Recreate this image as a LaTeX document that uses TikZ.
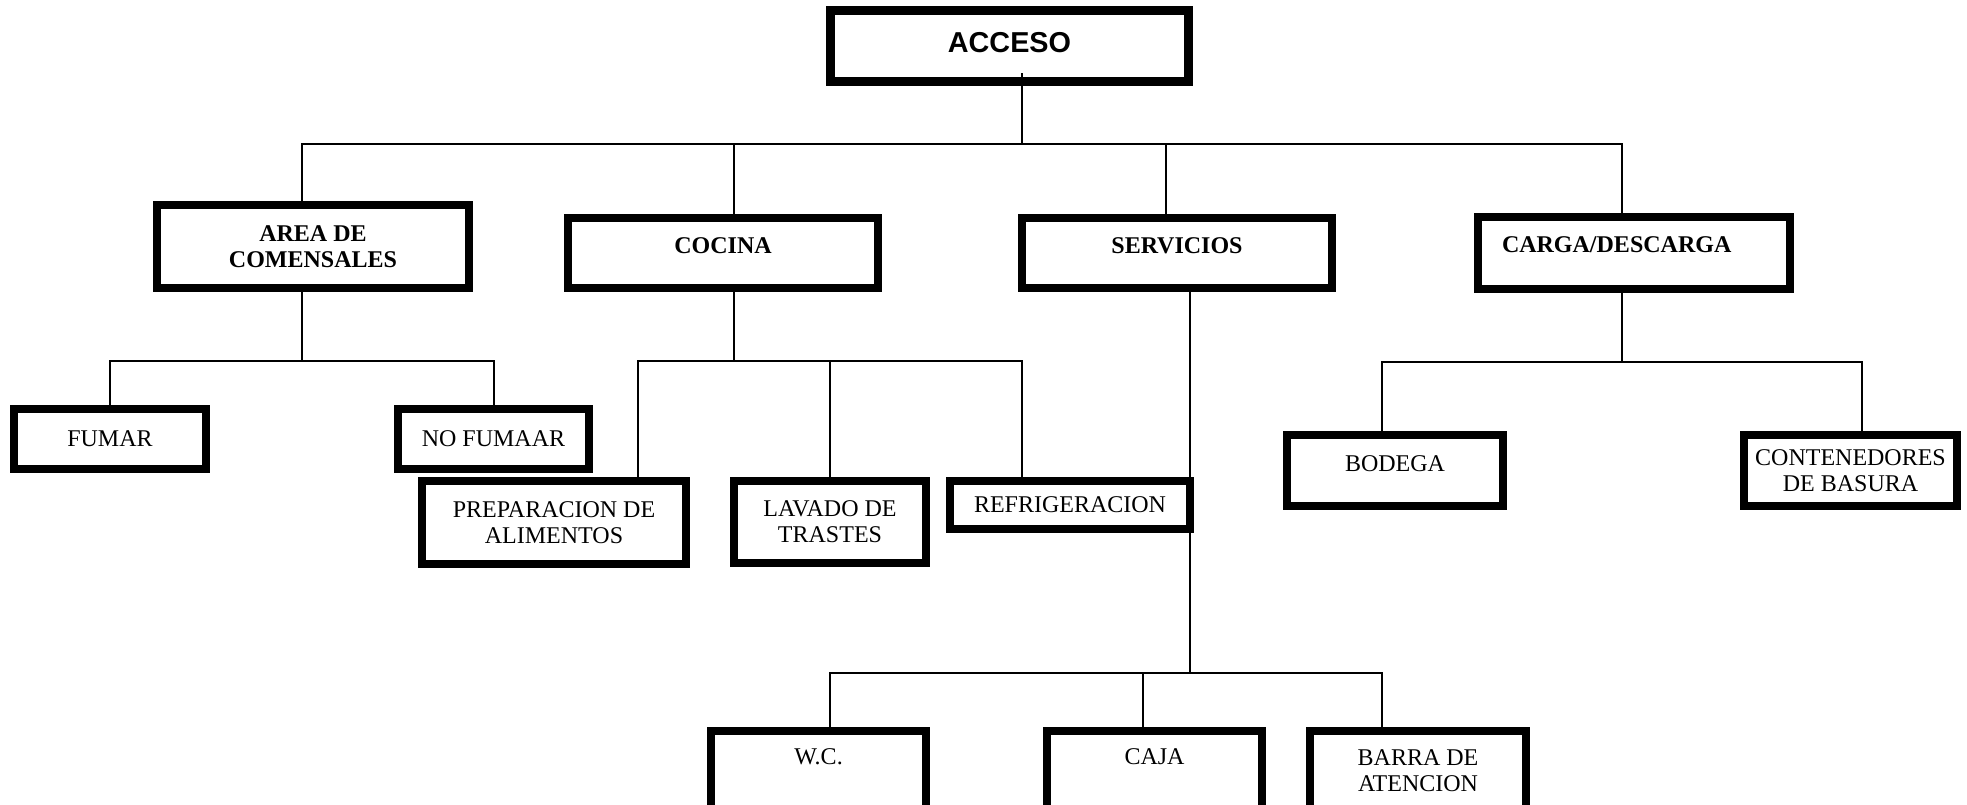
\documentclass[tikz,border=0pt]{standalone}
\usepackage{fontspec}
\setmainfont{Liberation Serif}
\newfontfamily\headfont{Liberation Sans}
\usepackage{tikz}
\usetikzlibrary{positioning,calc}
\newcommand*{\txt}{\fontsize{12}{13}\selectfont}

\begin{document}
\begin{tikzpicture}[x=0.5pt,y=-0.5pt,
  box/.style={draw,rectangle,line width=4pt,inner sep=0pt,align=center,font=\txt},
  head/.style={box,font=\txt\bfseries},
  link/.style={line width=1pt}]
\useasboundingbox (0,0) rectangle (1967,804);
\clip (0,0) rectangle (1967,804);
% Top box
\node [box,line width=4.5pt,minimum width=179pt,minimum height=35.5pt,text depth=4pt,
  font=\headfont\fontsize{14.4}{16}\selectfont\bfseries] (acceso) at (1009.5,46) {ACCESO};
% The four main areas
\node [head,minimum width=156pt,minimum height=41.5pt] (comensales) at (313,246.5)
  {AREA DE\\COMENSALES};
\node [head,minimum width=155pt,minimum height=35pt,text depth=7pt] (cocina) at (723,253)
  {COCINA};
\node [head,minimum width=155pt,minimum height=35pt,text depth=7pt] (servicios) at (1177,253)
  {SERVICIOS};
\node [head,minimum width=156pt,minimum height=36pt,text depth=8pt,text width=132pt,
  align=left] (carga) at (1634,253) {CARGA/DESCARGA};
% Dining room
\node [box,minimum width=96pt,minimum height=30pt] (fumar) at (110,439) {FUMAR};
\node [box,minimum width=95.5pt,minimum height=30pt] (nofumar) at (493.5,439) {NO FUMAAR};
% Kitchen
\node [box,minimum width=132pt,minimum height=41.5pt] (prep) at (554,522.5)
  {PREPARACION DE\\ALIMENTOS};
\node [box,minimum width=96pt,minimum height=41pt] (lavado) at (830,522)
  {LAVADO DE\\TRASTES};
\node [box,minimum width=120pt,minimum height=24pt] (refri) at (1070,505) {REFRIGERACION};
% Loading area
\node [box,minimum width=108pt,minimum height=35.5pt,text depth=7pt] (bodega) at (1395,470.5)
  {BODEGA};
\node [box,minimum width=106.5pt,minimum height=35.5pt] (conten) at (1850.5,470.5)
  {CONTENEDORES\\DE BASURA};
% Services
\node [box,minimum width=107.5pt,minimum height=40pt,text depth=14pt] (wc) at (818.5,771)
  {W.C.};
\node [box,minimum width=107.5pt,minimum height=40pt,text depth=14pt] (caja) at (1154.5,771)
  {CAJA};
\node [box,minimum width=108pt,minimum height=40pt] (barra) at (1418,771)
  {BARRA DE\\ATENCION};
% Bus under ACCESO and its branches
\coordinate (a0) at (1022,144);
\coordinate (a1) at (302,144);
\coordinate (a2) at (734,144);
\coordinate (a3) at (1166,144);
\coordinate (a4) at (1622,144);
\draw [link] ($(acceso.south)+(12.5,-13)$) -- (a0);
\draw [link] (a1 |- comensales.north) -- (a1) -- (a4) -- (a4 |- carga.north);
\draw [link] (a2) -- (a2 |- cocina.north);
\draw [link] (a3) -- (a3 |- servicios.north);
% Dining room branches
\coordinate (b0) at (302,361);
\coordinate (b1) at (110,361);
\coordinate (b2) at (494,361);
\draw [link] (comensales.south -| b0) -- (b0);
\draw [link] (b1 |- fumar.north) -- (b1) -- (b2) -- (b2 |- nofumar.north);
% Kitchen branches
\coordinate (c0) at (734,361);
\coordinate (c1) at (638,361);
\coordinate (c2) at (830,361);
\coordinate (c3) at (1022,361);
\draw [link] (cocina.south -| c0) -- (c0);
\draw [link] (c1 |- prep.north) -- (c1) -- (c3) -- (c3 |- refri.north);
\draw [link] (c2) -- (c2 |- lavado.north);
% Services branches, the long line runs down past REFRIGERACION
\coordinate (s0) at (1190,673);
\coordinate (s1) at (830,673);
\coordinate (s2) at (1143,673);
\coordinate (s3) at (1382,673);
\draw [link] (servicios.south -| s0) -- (s0);
\draw [link] (s1 |- wc.north) -- (s1) -- (s3) -- (s3 |- barra.north);
\draw [link] (s2) -- (s2 |- caja.north);
% Loading area branches
\coordinate (d0) at (1622,362);
\coordinate (d1) at (1382,362);
\coordinate (d2) at (1862,362);
\draw [link] (carga.south -| d0) -- (d0);
\draw [link] (d1 |- bodega.north) -- (d1) -- (d2) -- (d2 |- conten.north);
\end{tikzpicture}
\end{document}
